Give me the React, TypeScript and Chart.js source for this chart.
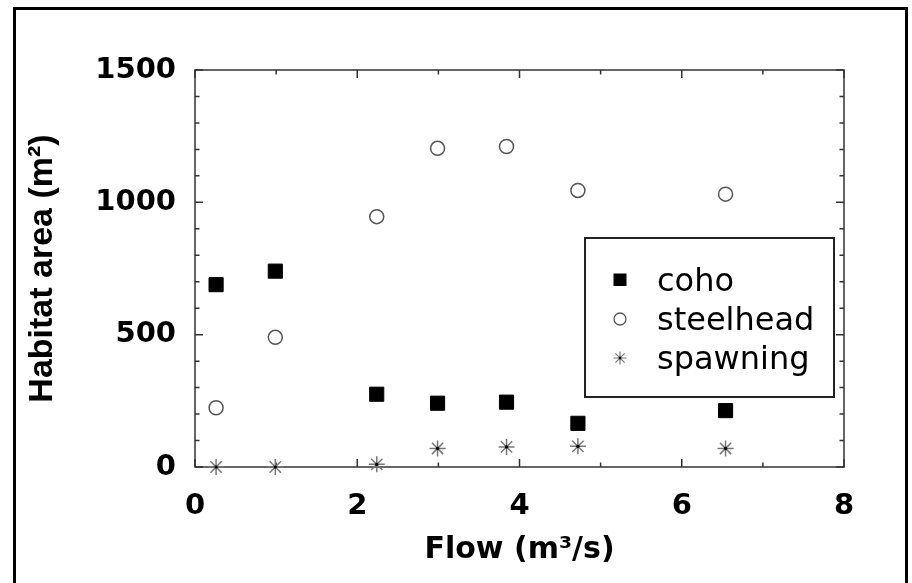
import React, { useEffect, useRef } from 'react';
import { Chart, registerables } from 'chart.js';

Chart.register(...registerables);

// ---- data ----
const flow = [0.26, 0.99, 2.24, 2.99, 3.84, 4.72, 6.54];
const coho = [689, 740, 275, 241, 245, 165, 213];
const steelhead = [224, 490, 946, 1204, 1211, 1045, 1031];
const spawning = [0, 0, 10, 70, 76, 78, 70];

const xTicks = [0, 2, 4, 6, 8];
const yTicks = [0, 500, 1000, 1500];
const xMinorStep = 1;
const yMinorStep = 100;

const seriesLabels = ['coho', 'steelhead', 'spawning'];

const toPoints = (ys: number[]) => flow.map((x, i) => ({ x, y: ys[i] }));

const drawMarker = (ctx: CanvasRenderingContext2D, style: string, cx: number, cy: number) => {
  ctx.save();
  if (style === 'rect') {
    ctx.fillStyle = '#000';
    ctx.fillRect(cx - 6.5, cy - 6.5, 13, 12.5);
  } else if (style === 'circle') {
    ctx.beginPath();
    ctx.arc(cx, cy, 6, 0, Math.PI * 2);
    ctx.fillStyle = '#fff';
    ctx.fill();
    ctx.strokeStyle = '#555';
    ctx.lineWidth = 1.3;
    ctx.stroke();
  } else if (style === 'star') {
    const r = 6.5;
    ctx.strokeStyle = '#777';
    ctx.lineWidth = 1.2;
    ctx.beginPath();
    for (let k = 0; k < 4; k++) {
      const a = (k * Math.PI) / 4;
      ctx.moveTo(cx - Math.cos(a) * r, cy - Math.sin(a) * r);
      ctx.lineTo(cx + Math.cos(a) * r, cy + Math.sin(a) * r);
    }
    ctx.stroke();
    ctx.beginPath();
    ctx.arc(cx, cy, 1.3, 0, Math.PI * 2);
    ctx.fillStyle = '#000';
    ctx.fill();
  }
  ctx.restore();
};

const decorPlugin = {
  id: 'decor',
  beforeDatasetsDraw(chart: any) {
    const { ctx, chartArea: a, scales } = chart;
    const x = scales.x;
    const y = scales.y;
    ctx.save();
    ctx.strokeStyle = '#333';
    ctx.lineWidth = 1.5;
    ctx.strokeRect(a.left, a.top, a.right - a.left, a.bottom - a.top);
    ctx.beginPath();
    for (let v = x.min; v <= x.max + 1e-9; v += xMinorStep) {
      const px = x.getPixelForValue(v);
      const len = xTicks.includes(v) ? 8 : 4.5;
      ctx.moveTo(px, a.bottom);
      ctx.lineTo(px, a.bottom - len);
      ctx.moveTo(px, a.top);
      ctx.lineTo(px, a.top + len);
    }
    for (let v = y.min; v <= y.max + 1e-9; v += yMinorStep) {
      const py = y.getPixelForValue(v);
      const len = yTicks.includes(v) ? 8 : 4.5;
      ctx.moveTo(a.left, py);
      ctx.lineTo(a.left + len, py);
      ctx.moveTo(a.right, py);
      ctx.lineTo(a.right - len, py);
    }
    ctx.stroke();
    ctx.restore();
  },
  afterDatasetsDraw(chart: any) {
    const { ctx } = chart;
    const meta = chart.getDatasetMeta(2);
    ctx.save();
    ctx.fillStyle = '#000';
    meta.data.forEach((el: any) => {
      ctx.beginPath();
      ctx.arc(el.x, el.y, 1.6, 0, Math.PI * 2);
      ctx.fill();
    });
    ctx.restore();
  },
  afterDraw(chart: any) {
    const { ctx, chartArea: a } = chart;
    ctx.save();
    // outer frame
    ctx.strokeStyle = '#000';
    ctx.lineWidth = 3;
    ctx.strokeRect(14.5, 8.5, 892, 700);
    // legend box
    const w = 249;
    const h = 159;
    const lx = a.right - 10 - w;
    const ly = a.bottom - 70 - h;
    ctx.lineWidth = 2;
    ctx.strokeStyle = '#222';
    ctx.fillStyle = '#fff';
    ctx.fillRect(lx, ly, w, h);
    ctx.strokeRect(lx, ly, w, h);
    ctx.font = '32px "DejaVu Sans"';
    ctx.textBaseline = 'alphabetic';
    ctx.textAlign = 'left';
    chart.data.datasets.forEach((ds: any, i: number) => {
      const base = ly + 53 + i * 39;
      drawMarker(ctx, ds.pointStyle, lx + 35, base - 11);
      ctx.fillStyle = '#000';
      ctx.fillText(ds.label, lx + 72, base);
    });
    ctx.restore();
  },
};

export default function App() {
  const ref = useRef<HTMLCanvasElement | null>(null);

  useEffect(() => {
    if (!ref.current) return;
    const chart = new Chart(ref.current, {
      type: 'scatter',
      data: {
        datasets: [
          {
            label: seriesLabels[0],
            data: toPoints(coho),
            pointStyle: 'rect',
            pointRadius: 10,
            backgroundColor: '#000',
            borderColor: '#000',
            borderWidth: 1,
            clip: false,
          },
          {
            label: seriesLabels[1],
            data: toPoints(steelhead),
            pointStyle: 'circle',
            pointRadius: 7,
            backgroundColor: '#fff',
            borderColor: '#555',
            borderWidth: 1.5,
            clip: false,
          },
          {
            label: seriesLabels[2],
            data: toPoints(spawning),
            pointStyle: 'star',
            pointRadius: 8,
            backgroundColor: '#777',
            borderColor: '#777',
            borderWidth: 1.5,
            clip: false,
          },
        ] as any,
      },
      options: {
        responsive: false,
        devicePixelRatio: 1,
        animation: false,
        events: [],
        layout: { padding: { top: 70, right: 68, left: 0, bottom: 0 } },
        plugins: { legend: { display: false }, tooltip: { enabled: false } },
        scales: {
          x: {
            type: 'linear',
            position: 'bottom',
            min: 0,
            max: 8,
            afterBuildTicks: (s: any) => {
              s.ticks = xTicks.map((v) => ({ value: v }));
            },
            afterFit: (s: any) => {
              s.height = 116;
            },
            grid: { display: false, drawTicks: false },
            border: { display: false },
            ticks: {
              padding: 22,
              color: '#000',
              autoSkip: false,
              maxRotation: 0,
              callback: (v: any) => String(v),
              font: { family: 'DejaVu Sans', weight: 'bold', size: 29 },
            },
            title: {
              display: true,
              text: 'Flow (m³/s)',
              color: '#000',
              font: { family: 'DejaVu Sans', weight: 'bold', size: 30, lineHeight: 1 },
              padding: { top: 0, bottom: 17.5 },
            },
          },
          y: {
            type: 'linear',
            position: 'left',
            min: 0,
            max: 1500,
            afterBuildTicks: (s: any) => {
              s.ticks = yTicks.map((v) => ({ value: v }));
            },
            afterFit: (s: any) => {
              s.width = 195;
            },
            grid: { display: false, drawTicks: false },
            border: { display: false },
            ticks: {
              padding: 19,
              color: '#000',
              autoSkip: false,
              callback: (v: any) => String(v),
              font: { family: 'DejaVu Sans', weight: 'bold', size: 29 },
            },
            title: {
              display: true,
              text: 'Habitat area (m²)',
              color: '#000',
              font: { family: 'Liberation Sans', weight: 'bold', size: 34, lineHeight: 1 },
              padding: { top: 25.5, bottom: 0 },
            },
          },
        },
      } as any,
      plugins: [decorPlugin],
    });
    return () => chart.destroy();
  }, []);

  return (
    <div style={{ position: 'fixed', left: 0, top: 0, width: 912, height: 583, background: '#fff' }}>
      <canvas ref={ref} width={912} height={583} style={{ display: 'block', width: 912, height: 583 }} />
    </div>
  );
}
